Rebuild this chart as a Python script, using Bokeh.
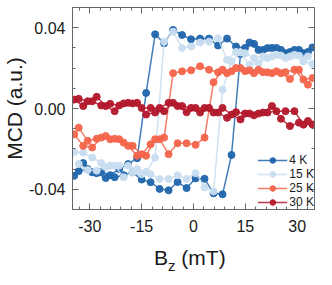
from bokeh.plotting import figure
from bokeh.layouts import column
from bokeh.models import (Range1d, LinearAxis, FixedTicker, PrintfTickFormatter,
                          CustomJSTickFormatter, Legend, LegendItem, Div)
from bokeh.embed import file_html
from bokeh.resources import INLINE

# ---- data -------------------------------------------------------------
# field values (mT) of the two sweeps (listed in increasing field)
b_down = [-34.5, -31.9, -29.3, -26.7, -24.1, -21.5, -18.9, -16.3, -13.7, -11.1,
          -8.5, -5.9, -3.3, -0.7, 1.9, 4.5, 7.1, 9.7, 12.3, 14.9,
          17.5, 20.1, 22.7, 25.3, 27.9, 30.5, 33.1]
b_up = [-33.2, -30.6, -28.0, -25.4, -22.8, -20.2, -17.6, -15.0, -12.4, -9.8,
        -7.2, -4.6, -2.0, 0.6, 3.2, 5.8, 8.4, 11.0, 13.6, 16.2,
        18.8, 21.4, 24.0, 26.6, 29.2, 31.8, 34.4]

labels = ["4 K", "15 K", "25 K", "30 K"]
colors = ["#2166ac", "#c9ddf0", "#f4654b", "#b2182b"]

mcd_4k_down = [-0.0333, -0.0270, -0.0316, -0.0313, -0.0330, -0.0300, -0.0275, -0.0246, 0.0077, 0.0367,
               0.0323, 0.0389, 0.0364, 0.0343, 0.0346, 0.0346, 0.0312, 0.0346, 0.0307, 0.0300,
               0.0320, 0.0290, 0.0300, 0.0290, 0.0280, 0.0290, 0.0280]
mcd_4k_up = [-0.0310, -0.0300, -0.0320, -0.0344, -0.0340, -0.0330, -0.0316, -0.0352, -0.0365, -0.0398,
             -0.0405, -0.0364, -0.0394, -0.0346, -0.0348, -0.0420, -0.0425, -0.0230, 0.0270, 0.0327,
             0.0290, 0.0299, 0.0300, 0.0274, 0.0290, 0.0274, 0.0302]

mcd_15k_down = [-0.0215, -0.0218, -0.0243, -0.0270, -0.0283, -0.0283, -0.0283, -0.0300, -0.0313, -0.0243,
                0.0331, 0.0380, 0.0300, 0.0307, 0.0327, 0.0331, 0.0348, 0.0241, 0.0280, 0.0274,
                0.0250, 0.0258, 0.0258, 0.0262, 0.0258, 0.0262, 0.0258]
mcd_15k_up = [-0.0275, -0.0305, -0.0308, -0.0290, -0.0283, -0.0340, -0.0316, -0.0325, -0.0325, -0.0349,
              -0.0349, -0.0330, -0.0349, -0.0320, -0.0390, -0.0410, 0.0093, 0.0233, 0.0277, 0.0216,
              0.0225, 0.0250, 0.0266, 0.0250, 0.0266, 0.0233, 0.0221]

mcd_25k_down = [-0.0128, -0.0185, -0.0193, -0.0144, -0.0152, -0.0152, -0.0185, -0.0234, -0.0234, -0.0152,
                -0.0144, 0.0175, 0.0184, 0.0189, 0.0209, 0.0192, 0.0179, 0.0175, 0.0200, 0.0185,
                0.0175, 0.0180, 0.0175, 0.0175, 0.0146, 0.0192, 0.0118]
mcd_25k_up = [-0.0095, -0.0160, -0.0150, -0.0136, -0.0150, -0.0169, -0.0185, -0.0226, -0.0177, -0.0152,
              -0.0226, -0.0172, -0.0172, -0.0180, -0.0144, 0.0130, 0.0192, 0.0184, 0.0200, 0.0189,
              0.0192, 0.0179, 0.0184, 0.0180, 0.0192, 0.0143, 0.0151]

mcd_30k_down = [0.0044, 0.0012, 0.0036, 0.0015, 0.0023, 0.0015, 0.0028, 0.0028, -0.0030, -0.0020,
                -0.0013, 0.0028, 0.0012, 0.0003, -0.0020, 0.0003, -0.0020, -0.0046, -0.0018, -0.0025,
                -0.0034, -0.0020, 0.0012, -0.0051, -0.0087, -0.0070, -0.0062]
mcd_30k_up = [0.0048, 0.0036, 0.0058, 0.0012, -0.0013, 0.0025, 0.0025, 0.0003, 0.0003, 0.0003,
              0.0028, 0.0012, -0.0018, 0.0003, 0.0003, -0.0020, 0.0003, -0.0030, -0.0054, -0.0025,
              -0.0025, -0.0020, -0.0013, -0.0013, -0.0013, -0.0080, -0.0079]

x_major = [-30, -15, 0, 15, 30]
x_minor = [-33, -27, -24, -21, -18, -12, -9, -6, -3, 3, 6, 9, 12, 18, 21, 24, 27, 33]
y_major = [-0.04, 0.0, 0.04]
y_minor = [-0.05, -0.03, -0.02, -0.01, 0.01, 0.02, 0.03, 0.05]

series = [(mcd_4k_down, mcd_4k_up), (mcd_15k_down, mcd_15k_up),
          (mcd_25k_down, mcd_25k_up), (mcd_30k_down, mcd_30k_up)]

# ---- figure -----------------------------------------------------------
FONT = "Liberation Sans"
AX = "#666666"
TXT = "#1a1a1a"

p = figure(width=316, height=244, output_backend="svg", toolbar_location=None,
           x_range=Range1d(-35, 35), y_range=Range1d(-0.05, 0.05),
           x_axis_location=None, y_axis_location=None,
           min_border_left=69, min_border_right=2, min_border_top=7, min_border_bottom=35)
p.outline_line_color = None
p.grid.visible = False
p.background_fill_color = "white"
p.border_fill_color = "white"


def style(ax, ticks, minor, fmt, show, standoff=7):
    ax.ticker = FixedTicker(ticks=ticks, minor_ticks=minor)
    ax.axis_line_color = AX
    ax.major_tick_line_color = AX
    ax.minor_tick_line_color = AX
    ax.major_tick_in = 6
    ax.major_tick_out = 0
    ax.minor_tick_in = 3
    ax.minor_tick_out = 0
    ax.major_label_text_font = FONT
    ax.major_label_text_color = TXT
    ax.major_label_text_font_size = "16px"
    if show:
        ax.formatter = PrintfTickFormatter(format=fmt)
        ax.major_label_standoff = standoff
    else:
        ax.formatter = CustomJSTickFormatter(code="return ''")
        ax.major_label_standoff = 0


xb = LinearAxis()
style(xb, x_major, x_minor, "%d", True, standoff=10)
yl = LinearAxis(axis_label="MCD (a.u.)")
style(yl, y_major, y_minor, "%.2f", True, standoff=7)
yl.axis_label_text_font = FONT
yl.axis_label_text_font_size = "21px"
yl.axis_label_text_font_style = "normal"
yl.axis_label_text_color = TXT
yl.axis_label_standoff = 0
xt = LinearAxis()
style(xt, x_major, x_minor, "%d", False)
yr = LinearAxis()
style(yr, y_major, y_minor, "%.2f", False)

p.add_layout(xb, "below")
p.add_layout(yl, "left")
p.add_layout(xt, "above")
p.add_layout(yr, "right")

items = []
for lab, col, (down, up) in zip(labels, colors, series):
    l1 = p.line(b_down, down, line_color=col, line_width=1.5, line_alpha=0.85)
    l2 = p.line(b_up, up, line_color=col, line_width=1.5, line_alpha=0.85)
    s1 = p.scatter(b_down, down, size=7, fill_color=col, line_color=col, alpha=0.95)
    s2 = p.scatter(b_up, up, size=7, fill_color=col, line_color=col, alpha=0.95)
    items.append(LegendItem(label=lab, renderers=[l1, s1]))

legend = Legend(items=items, location="bottom_right", margin=0, padding=9,
                spacing=0, glyph_width=30, glyph_height=14, label_height=14,
                label_standoff=2, border_line_color=None, background_fill_alpha=0,
                label_text_font=FONT, label_text_font_size="12px",
                label_text_color=TXT)
p.add_layout(legend, "center")

# x-axis title with subscript: B_z (mT)
xtitle = Div(
    text=('<div style="font-family:\'Liberation Sans\';font-size:21px;line-height:21px;'
          'color:#1a1a1a;padding-left:154px;padding-top:3px;white-space:nowrap;">'
          'B<span style="font-size:15px;position:relative;top:6px;">z</span> (mT)</div>'),
    width=316, height=25, margin=(0, 0, 0, 0))

layout = column(p, xtitle, spacing=0)
open("out.html", "w").write(file_html(layout, INLINE))
